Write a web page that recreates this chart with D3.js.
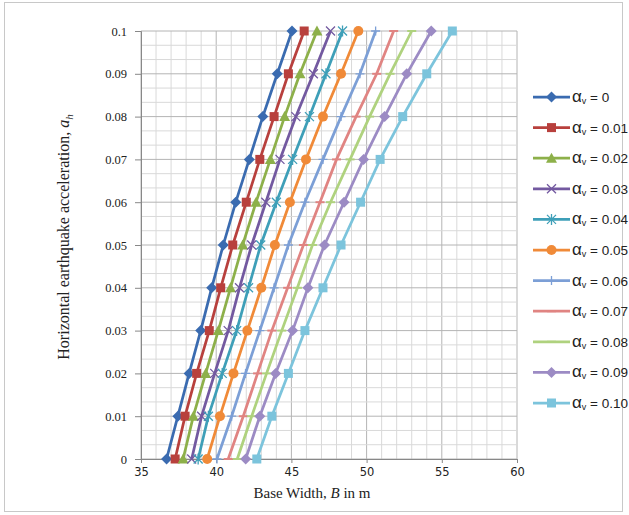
<!DOCTYPE html>
<html><head><meta charset="utf-8">
<script src="https://cdn.jsdelivr.net/npm/d3@7"></script>
<style>body{margin:0;background:#fff}svg{display:block}</style>
</head><body>
<script>
const ahValues = [0,0.01,0.02,0.03,0.04,0.05,0.06,0.07,0.08,0.09,0.1];
const seriesNames = ["0","0.01","0.02","0.03","0.04","0.05","0.06","0.07","0.08","0.09","0.10"];
const B_av000 = [36.7,37.45,38.2,38.97,39.7,40.47,41.3,42.2,43.1,44.06,45.04];
const B_av001 = [37.27,37.93,38.7,39.54,40.3,41.1,42.0,42.9,43.85,44.8,45.85];
const B_av002 = [37.8,38.48,39.3,40.14,40.95,41.76,42.65,43.6,44.55,45.57,46.7];
const B_av003 = [38.37,39.03,39.9,40.8,41.55,42.36,43.3,44.24,45.3,46.46,47.6];
const B_av004 = [38.8,39.48,40.4,41.36,42.15,42.96,44.0,45.08,46.2,47.3,48.4];
const B_av005 = [39.4,40.25,41.15,42.07,43.0,43.9,44.9,45.97,47.1,48.3,49.45];
const B_av006 = [40.05,41.03,41.95,42.9,43.85,44.8,45.9,47.1,48.3,49.56,50.6];
const B_av007 = [40.8,41.8,42.75,43.7,44.75,45.8,46.9,48.0,49.3,50.67,51.8];
const B_av008 = [41.4,42.36,43.35,44.36,45.4,46.4,47.6,48.9,50.2,51.56,53.0];
const B_av009 = [41.96,42.9,43.95,45.08,46.1,47.2,48.5,49.8,51.2,52.67,54.3];
const B_av010 = [42.7,43.7,44.8,45.9,47.1,48.3,49.6,50.9,52.4,54.0,55.7];
const xTicks = [35,40,45,50,55,60];
const yTicks = [0,0.01,0.02,0.03,0.04,0.05,0.06,0.07,0.08,0.09,0.1];

const seriesB = [B_av000,B_av001,B_av002,B_av003,B_av004,B_av005,B_av006,B_av007,B_av008,B_av009,B_av010];
const colors = ["#3A6BB0","#B8403D","#8DB04A","#7359A0","#3E9FB8","#F08A38","#7C9FD6","#E08482","#AFD27E","#9C8BC4","#7CC4DC"];
const markers = ["diamond","square","triangle","x","star","circle","plus","dash","dash","diamond","square"];

const W=629,H=515;
const svg=d3.select("body").append("svg").attr("width",W).attr("height",H);
svg.append("rect").attr("x",4.5).attr("y",2.5).attr("width",618).attr("height",509).attr("fill","none").attr("stroke","#c8c8c8");

const x=d3.scaleLinear().domain([35,60]).range([141,517]);
const y=d3.scaleLinear().domain([0,0.1]).range([459,31]);

// grid
const g=svg.append("g");
d3.range(35,61,1).forEach(v=>{
  g.append("line").attr("x1",x(v)).attr("x2",x(v)).attr("y1",y(0)).attr("y2",y(0.1))
   .attr("stroke",v%5===0?"#b4b4b4":"#d9d9d9").attr("stroke-width",1);
});
d3.range(0,31,1).forEach(i=>{
  const v=i*0.1/30;
  g.append("line").attr("x1",x(35)).attr("x2",x(60)).attr("y1",y(v)).attr("y2",y(v))
   .attr("stroke",i%3===0?"#b4b4b4":"#d9d9d9").attr("stroke-width",1);
});

// axes
const xAxis=d3.axisBottom(x).tickValues(xTicks).tickSize(4).tickFormat(d3.format("d"));
const ax=svg.append("g").attr("transform",`translate(0,${y(0)})`).call(xAxis);
ax.select(".domain").attr("stroke","#888");
ax.selectAll(".tick line").attr("stroke","#888");
ax.selectAll("text").attr("font-family","DejaVu Sans").attr("font-size","11.5px").attr("fill","#222").attr("dy","0.9em");

const yAxis=d3.axisLeft(y).tickValues(yTicks).tickSize(6).tickPadding(8).tickFormat(d=>d===0?"0":d3.format("")(+d.toFixed(2)));
const ay=svg.append("g").attr("transform",`translate(${x(35)},0)`).call(yAxis);
ay.select(".domain").attr("stroke","#888");
ay.selectAll(".tick line").attr("stroke","#888");
ay.selectAll("text").attr("font-family","Liberation Serif").attr("font-size","12.5px").attr("fill","#222");

function drawMarker(sel,type,color,cx,cy){
  const s=4.5;
  if(type==="diamond") sel.append("path").attr("d",`M${cx},${cy-s-1}L${cx+s+1},${cy}L${cx},${cy+s+1}L${cx-s-1},${cy}Z`).attr("fill",color);
  else if(type==="square") sel.append("rect").attr("x",cx-s).attr("y",cy-s).attr("width",2*s).attr("height",2*s).attr("fill",color);
  else if(type==="triangle") sel.append("path").attr("d",`M${cx},${cy-s-1}L${cx+s+1},${cy+s}L${cx-s-1},${cy+s}Z`).attr("fill",color);
  else if(type==="circle") sel.append("circle").attr("cx",cx).attr("cy",cy).attr("r",s+0.5).attr("fill",color);
  else if(type==="x") sel.append("path").attr("d",`M${cx-s},${cy-s}L${cx+s},${cy+s}M${cx-s},${cy+s}L${cx+s},${cy-s}`).attr("stroke",color).attr("stroke-width",1.3).attr("fill","none");
  else if(type==="star") sel.append("path").attr("d",`M${cx-s},${cy-s}L${cx+s},${cy+s}M${cx-s},${cy+s}L${cx+s},${cy-s}M${cx},${cy-s-1}L${cx},${cy+s+1}`).attr("stroke",color).attr("stroke-width",1.3).attr("fill","none");
  else if(type==="plus") sel.append("path").attr("d",`M${cx-s},${cy}L${cx+s},${cy}M${cx},${cy-s}L${cx},${cy+s}`).attr("stroke",color).attr("stroke-width",1.3).attr("fill","none");
  else if(type==="dash") sel.append("path").attr("d",`M${cx-s},${cy}L${cx+s},${cy}`).attr("stroke",color).attr("stroke-width",2).attr("fill","none");
}

const line=d3.line().x(d=>x(d[0])).y(d=>y(d[1]));
const plot=svg.append("g");
seriesB.forEach((arr,i)=>{
  const pts=arr.map((b,j)=>[b,ahValues[j]]);
  plot.append("path").attr("d",line(pts)).attr("fill","none").attr("stroke",colors[i]).attr("stroke-width",2.75);
  const mg=plot.append("g");
  pts.forEach(p=>drawMarker(mg,markers[i],colors[i],x(p[0]),y(p[1])));
});

// legend
const lg=svg.append("g");
seriesNames.forEach((n,i)=>{
  const ly=97+i*30.6;
  lg.append("line").attr("x1",533).attr("x2",570).attr("y1",ly).attr("y2",ly).attr("stroke",colors[i]).attr("stroke-width",2.75);
  drawMarker(lg,markers[i],colors[i],551.5,ly);
  const t=lg.append("text").attr("x",572).attr("y",ly+5).attr("font-family","Liberation Sans").attr("font-size","13.5px").attr("fill","#222");
  t.append("tspan").attr("font-size","17px").text("α");
  t.append("tspan").attr("font-size","9px").attr("dy","2").text("v");
  t.append("tspan").attr("dy","-2").text(" = "+n);
});

// axis titles
const xt=svg.append("text").attr("x",312).attr("y",498).attr("text-anchor","middle").attr("font-family","Liberation Serif").attr("font-size","15px").attr("fill","#222");
xt.append("tspan").text("Base Width, ");
xt.append("tspan").attr("font-style","italic").text("B");
xt.append("tspan").text(" in m");

const yt=svg.append("text").attr("transform","translate(69,237) rotate(-90)").attr("text-anchor","middle").attr("font-family","Liberation Serif").attr("font-size","16px").attr("fill","#222");
yt.append("tspan").text("Horizontal earthquake acceleration, ");
yt.append("tspan").attr("font-style","italic").text("a");
yt.append("tspan").attr("font-style","italic").attr("font-size","11px").attr("dy","4").text("h");
</script>
</body></html>
